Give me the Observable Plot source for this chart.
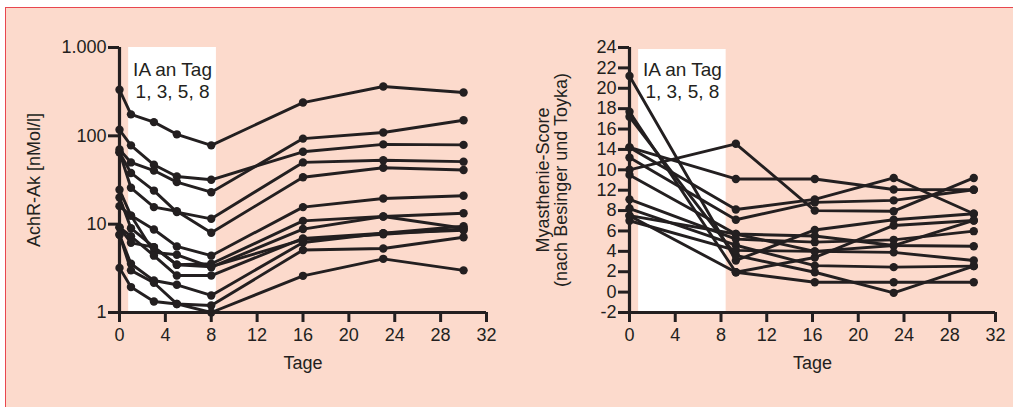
<!DOCTYPE html>
<html>
<head>
<meta charset="utf-8">
<script src="https://cdn.jsdelivr.net/npm/d3@7"></script>
<script src="https://cdn.jsdelivr.net/npm/@observablehq/plot@0.6"></script>
<style>
  html, body { margin: 0; padding: 0; background: #ffffff; }
  #page { position: relative; width: 1013px; height: 407px; overflow: hidden; background: #ffffff; }
  #panel { position: absolute; left: 5px; top: 7px; width: 1008px; height: 400px; background: #fcdacc;
           border-left: 1.5px solid #e8474f; border-top: 1.5px solid #e8474f; box-sizing: border-box; }
  #left, #right { position: absolute; top: 0; }
  #left { left: 0; }
  #right { left: 506px; }
  svg { font-family: "Liberation Sans", Arial, sans-serif; }
</style>
</head>
<body>
<div id="page">
  <div id="panel"></div>
  <div id="left"></div>
  <div id="right"></div>
</div>
<script>
// ---------- shared ----------
const xTicks = [0, 4, 8, 12, 16, 20, 24, 28, 32];
const xLabel = "Tage";
const iaWindow = [0.8, 8.45];          // white band: apheresis period
const iaText = "IA an Tag\n1, 3, 5, 8";

// ---------- left panel: AchR-Ak [nMol/l], log scale ----------
const leftDays = [0, 1, 3, 5, 8, 16, 23, 30];
const achr01 = [332, 175, 143, 104, 78, 238, 362, 310];
const achr02 = [117, 78, 47, 34.6, 31.8, 66, 80, 79];
const achr03 = [70, 50, 40.5, 29.9, 23, 93, 109, 150];
const achr04 = [65, 38, 24, 13.7, 11.5, 50, 53, 51];
const achr05 = [65, 25.8, 15.6, 14, 8.0, 34, 43.5, 41];
const achr06 = [24.5, 12.5, 8.7, 5.6, 4.4, 15.6, 19.5, 21];
const achr07 = [20, 9.0, 5.5, 3.47, 3.56, 10.9, 12.2, 13.3];
const achr08 = [16, 12.5, 4.8, 4.5, 3.26, 8.8, 12.2, 9.0];
const achr09 = [9.2, 7.3, 4.4, 2.62, 2.62, 6.9, 7.9, 9.5];
const achr10 = [9.2, 6.15, 5.5, 3.47, 3.3, 6.7, 7.7, 8.8];
const achr11 = [7.6, 3.56, 2.3, 2.06, 1.56, 6.2, 7.9, 8.5];
const achr12 = [7.6, 3.0, 2.17, 1.25, 1.2, 5.1, 5.3, 7.1];
const achr13 = [3.2, 1.94, 1.33, 1.25, 1.0, 2.6, 4.05, 3.0];
const leftSeries = [achr01, achr02, achr03, achr04, achr05, achr06, achr07, achr08, achr09, achr10, achr11, achr12, achr13];
const leftTicks = [1, 10, 100, 1000];
const leftTickLabels = ["1", "10", "100", "1.000"];
const leftYLabel = "AchR-Ak [nMol/l]";
const leftYDomain = [1, 1000];

// ---------- right panel: Myasthenie-Score ----------
const rightDays = [0, 9.3, 16.2, 23.1, 30.1];
const score01 = [12.0, 14.55, 8.0, 7.94, 11.2];
const score02 = [14.2, 11.1, 11.1, 10.07, 10.04];
const score03 = [14.2, 8.1, 9.1, 11.2, 7.69];
const score04 = [13.2, 7.1, 8.8, 9.0, 10.04];
const score05 = [21.2, 3.1, 6.1, 7.1, 7.69];
const score06 = [17.7, 1.95, 3.4, 6.54, 7.03];
const score07 = [17.2, 3.6, 1.95, -0.07, 2.55];
const score08 = [11.5, 5.7, 5.5, 4.57, 4.5];
const score09 = [9.1, 5.2, 4.9, 5.13, 5.98];
const score10 = [8.2, 4.6, 2.6, 2.45, 2.55];
const score11 = [7.5, 1.95, 0.97, 0.97, 0.97];
const score12 = [7.0, 4.1, 4.0, 3.9, 3.1];
const score13 = [7.5, 5.7, 4.0, 4.57, 7.03];
const rightSeries = [score01, score02, score03, score04, score05, score06, score07, score08, score09, score10, score11, score12, score13];
const rightTicks = [-2, 0, 2, 4, 6, 8, 10, 12, 14, 16, 18, 20, 22, 24];
const rightTickLabels = ["-2", "0", "2", "4", "6", "8", "12", "10", "14", "16", "18", "20", "22", "24"];
const rightYLabel = "Myasthenie-Score\n(nach Besinger und Toyka)";
const rightYDomain = [-2, 24];
const rightBandTop = 23.8;

const ink = "#231f20";
const fontSize = 18;

function toRows(series, days) {
  return series.flatMap((vals, i) => vals.map((v, j) => ({id: i, day: days[j], v})));
}

function panel({series, days, yType, yDomain, ticks, tickLabels, yLabel, bandTop, labelOffset, marginLeft, marginRight, width}) {
  const rows = toRows(series, days);
  const fmt = new Map(ticks.map((t, i) => [t, tickLabels[i]]));
  return Plot.plot({
    width, height: 407,
    marginLeft, marginRight, marginTop: 47, marginBottom: 95,
    style: {background: "transparent", fontFamily: "'Liberation Sans', Arial, sans-serif", fontSize: fontSize + "px", color: ink},
    x: {domain: [0, 32]},
    y: {type: yType, domain: yDomain},
    marks: [
      Plot.rect([iaWindow], {x1: d => d[0], x2: d => d[1], y1: yDomain[0], y2: bandTop, fill: "white"}),
      Plot.text([iaText], {x: (iaWindow[0] + iaWindow[1]) / 2, frameAnchor: "top", lineAnchor: "top", dy: 12, fontSize: 19, lineHeight: 1.2, fill: ink}),
      Plot.line(rows, {x: "day", y: "v", z: "id", stroke: ink, strokeWidth: 2.9, curve: "linear"}),
      Plot.dot(rows, {x: "day", y: "v", r: 4.2, fill: ink, stroke: "none"}),
      Plot.axisX({ticks: xTicks, tickSize: 10, tickPadding: 6, strokeWidth: 3, stroke: ink, fill: ink, fontSize,
                  label: xLabel, labelAnchor: "center", labelArrow: "none", labelOffset: 56}),
      Plot.axisY({ticks, tickFormat: d => fmt.get(d), tickSize: 11, tickPadding: 2, strokeWidth: 3, stroke: ink, fill: ink, fontSize,
                  label: yLabel, labelAnchor: "center", labelArrow: "none", labelOffset}),
      Plot.ruleX([0], {y1: yDomain[0], y2: yDomain[1], stroke: ink, strokeWidth: 3.2}),
      Plot.ruleY([yDomain[0]], {x1: 0, x2: 32, stroke: ink, strokeWidth: 3.2})
    ]
  });
}

document.getElementById("left").appendChild(panel({
  series: leftSeries, days: leftDays, yType: "log", yDomain: leftYDomain,
  ticks: leftTicks, tickLabels: leftTickLabels, yLabel: leftYLabel, bandTop: leftYDomain[1],
  labelOffset: 92, marginLeft: 119, marginRight: 20, width: 506
}));

document.getElementById("right").appendChild(panel({
  series: rightSeries, days: rightDays, yType: "linear", yDomain: rightYDomain,
  ticks: rightTicks, tickLabels: rightTickLabels, yLabel: rightYLabel, bandTop: rightBandTop,
  labelOffset: 93, marginLeft: 123, marginRight: 18, width: 507
}));
</script>
</body>
</html>
